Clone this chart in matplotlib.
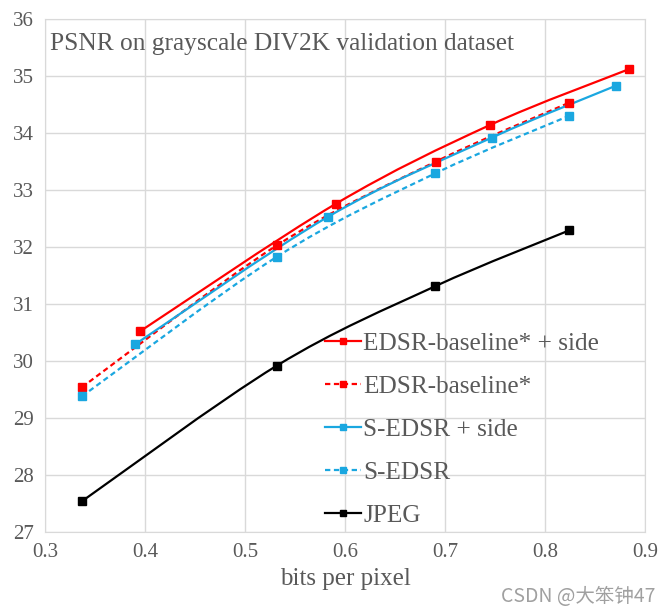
import matplotlib
matplotlib.use("Agg")
import matplotlib.pyplot as plt
import numpy as np
from matplotlib.path import Path
from matplotlib.patches import PathPatch
from matplotlib.lines import Line2D

# ---- data ----
edsr_side_x = [0.395, 0.591, 0.745, 0.884]
edsr_side_y = [30.52, 32.76, 34.14, 35.12]
edsr_x = [0.337, 0.532, 0.691, 0.824]
edsr_y = [29.54, 32.03, 33.50, 34.53]
sedsr_side_x = [0.390, 0.583, 0.747, 0.871]
sedsr_side_y = [30.29, 32.53, 33.92, 34.83]
sedsr_x = [0.337, 0.532, 0.690, 0.824]
sedsr_y = [29.38, 31.83, 33.29, 34.30]
jpeg_x = [0.337, 0.532, 0.690, 0.824]
jpeg_y = [27.54, 29.92, 31.31, 32.29]

labels = ["EDSR-baseline* + side", "EDSR-baseline*", "S-EDSR + side", "S-EDSR", "JPEG"]
title = "PSNR on grayscale DIV2K validation dataset"
xlabel = "bits per pixel"
xticks = [0.3, 0.4, 0.5, 0.6, 0.7, 0.8, 0.9]
yticks = [27, 28, 29, 30, 31, 32, 33, 34, 35, 36]

RED = "#ff0000"
BLUE = "#1aa7e0"
BLACK = "#000000"
GRID = "#d9d9d9"
TXT = "#595959"

series = [
    (edsr_side_x, edsr_side_y, RED, "-"),
    (edsr_x, edsr_y, RED, (0, (2.4, 1.6))),
    (sedsr_side_x, sedsr_side_y, BLUE, "-"),
    (sedsr_x, sedsr_y, BLUE, (0, (2.4, 1.6))),
    (jpeg_x, jpeg_y, BLACK, "-"),
]

plt.rcParams["font.family"] = ["Liberation Serif", "DejaVu Serif"]

fig = plt.figure(figsize=(6.72, 6.15), dpi=100)
ax = fig.add_axes([45/672, 1-532/615, 600/672, 513/615])


def smooth_path(xs, ys):
    p = np.column_stack([xs, ys]).astype(float)
    n = len(p)
    verts = [p[0]]
    codes = [Path.MOVETO]
    for i in range(n - 1):
        p0 = p[i - 1] if i > 0 else p[i]
        p1 = p[i]
        p2 = p[i + 1]
        p3 = p[i + 2] if i + 2 < n else p[i + 1]
        c1 = p1 + (p2 - p0) / 6.0
        c2 = p2 - (p3 - p1) / 6.0
        verts += [c1, c2, p2]
        codes += [Path.CURVE4] * 3
    return Path(verts, codes)


handles = []
for (xs, ys, c, ls), lab in zip(series, labels):
    patch = PathPatch(smooth_path(xs, ys), fill=False, edgecolor=c, lw=1.6,
                      linestyle=ls, transform=ax.transData, zorder=3)
    ax.add_patch(patch)
    ax.plot(xs, ys, ls="none", marker="s", ms=6, color=c, zorder=4)
    handles.append(Line2D([], [], color=c, lw=1.6, linestyle=ls,
                          marker="s", ms=5, label=lab))

ax.set_xlim(0.3, 0.9)
ax.set_ylim(27, 36)
ax.set_xticks(xticks)
ax.set_yticks(yticks)
ax.set_xticklabels([f"{v:.1f}" for v in xticks])
ax.set_yticklabels([str(v) for v in yticks])
ax.grid(True, color=GRID, lw=1)
ax.set_axisbelow(True)
for s in ax.spines.values():
    s.set_color(GRID)
ax.tick_params(length=0, labelsize=15, labelcolor=TXT, pad=8)

ax.text(0.008, 0.972, title, transform=ax.transAxes, fontsize=18.3,
        color=TXT, va="top", ha="left")
ax.set_xlabel(xlabel, fontsize=18, color=TXT, labelpad=4)

leg = ax.legend(handles=handles, loc="lower left", bbox_to_anchor=(0.459, 0.0),
                frameon=False, fontsize=18.2, handlelength=1.4, handletextpad=0.1,
                labelspacing=0.8, labelcolor=TXT, borderaxespad=0.0, borderpad=0.2)

fig.text(655/672, 1-597/615, "CSDN @大笨钟47", fontsize=14, color="#a0a0a0",
         ha="right", va="center",
         family=["Noto Sans CJK SC", "DejaVu Sans"])

fig.savefig("out.png", dpi=100, facecolor="white")
